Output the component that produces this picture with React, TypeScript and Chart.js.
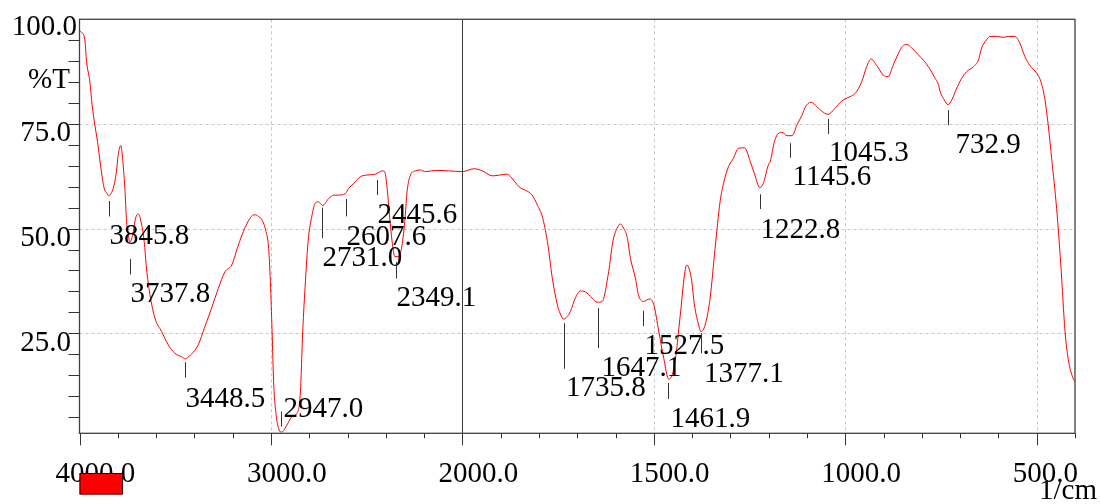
import React, { useEffect, useRef } from "react";
import { Chart, registerables, LinearScale } from "chart.js";

Chart.register(...registerables);

// ---- data ----
const WAVENUMBER: number[] = [
  4000, 3993, 3972, 3963, 3946, 3934, 3920, 3906, 3888, 3871, 3858, 3846, 3835, 3824, 3807, 3798,
  3784, 3775, 3763, 3754, 3745, 3737, 3728, 3719, 3707, 3693, 3679, 3662, 3650, 3632, 3606, 3571,
  3536, 3501, 3467, 3448, 3430, 3415, 3380, 3345, 3310, 3275, 3240, 3205, 3170, 3144, 3109, 3095,
  3082, 3065, 3047, 3026, 3012, 3003, 2994, 2986, 2973, 2960, 2947, 2939, 2916, 2890, 2864, 2846,
  2834, 2820, 2806, 2785, 2768, 2751, 2740, 2731, 2698, 2672, 2646, 2611, 2594, 2568, 2533, 2498,
  2454, 2419, 2406, 2393, 2381, 2367, 2353, 2336, 2318, 2301, 2289, 2271, 2245, 2219, 2193, 2141,
  2071, 2000, 1970, 1948, 1922, 1883, 1874, 1852, 1818, 1804, 1791, 1778, 1765, 1752, 1745, 1736,
  1726, 1718, 1705, 1692, 1679, 1661, 1648, 1635, 1618, 1607, 1596, 1587, 1579, 1570, 1561, 1548,
  1540, 1527, 1511, 1500, 1487, 1474, 1461, 1446, 1431, 1420, 1414, 1402, 1394, 1383, 1377, 1366,
  1353, 1340, 1327, 1318, 1305, 1292, 1279, 1263, 1248, 1237, 1223, 1214, 1201, 1196, 1185, 1174,
  1165, 1152, 1139, 1126, 1113, 1104, 1089, 1074, 1056, 1045, 1027, 1009, 988, 974, 957, 944,
  933, 918, 901, 888, 875, 861, 851, 839, 826, 809, 783, 766, 757, 752, 741, 732,
  722, 711, 696, 683, 665, 652, 644, 631, 622, 605, 587, 574, 557, 544, 531, 518,
  500, 489, 479, 470, 461, 448, 437, 426, 418, 405, 400,
];

const TRANSMITTANCE: number[] = [
  97.3, 97.0, 95.1, 89.9, 85.1, 79.5, 74.8, 70.8, 64.4, 59.6, 58.5, 57.8, 58.4, 59.6, 63.6, 67.6,
  69.8, 66.8, 59.6, 51.7, 48.5, 46.7, 47.5, 49.3, 52.5, 53.5, 51.7, 46.9, 40.5, 34.2, 28.6, 25.4,
  22.2, 20.2, 19.4, 18.9, 19.4, 20.0, 22.2, 26.6, 31.0, 35.7, 39.7, 41.3, 46.1, 49.3, 52.5, 53.2,
  53.3, 52.9, 52.1, 49.3, 45.3, 37.3, 25.4, 13.4, 5.5, 2.3, 1.4, 1.5, 3.1, 5.1, 5.9, 11.0,
  25.4, 37.3, 46.9, 53.3, 56.1, 56.4, 55.9, 55.5, 57.2, 58.0, 58.0, 58.4, 59.6, 60.8, 62.4, 62.8,
  63.0, 63.8, 63.6, 59.6, 53.3, 46.9, 43.3, 43.3, 45.3, 51.7, 58.8, 62.8, 63.8, 64.0, 63.6, 63.9,
  63.8, 63.6, 64.3, 63.8, 62.6, 63.0, 62.4, 60.0, 58.0, 55.6, 52.8, 46.9, 38.1, 31.8, 29.8, 28.4,
  29.0, 30.2, 33.4, 35.1, 34.9, 33.4, 32.4, 32.6, 39.7, 46.9, 50.1, 51.1, 50.1, 48.1, 42.9, 38.1,
  34.1, 32.6, 33.2, 31.8, 25.4, 19.0, 14.0, 17.4, 29.3, 38.9, 41.3, 38.1, 31.8, 27.0, 25.4, 27.0,
  33.4, 45.3, 56.4, 60.8, 64.8, 66.8, 69.2, 69.3, 66.0, 63.0, 59.8, 60.8, 65.2, 66.0, 70.8, 72.8,
  73.0, 72.2, 72.2, 74.8, 77.1, 79.1, 80.2, 79.1, 77.7, 77.3, 78.7, 80.5, 81.5, 82.3, 85.1, 88.7,
  90.5, 89.0, 86.7, 86.3, 89.0, 91.9, 93.5, 94.0, 93.1, 91.5, 88.7, 86.0, 84.5, 82.7, 80.7, 79.6,
  80.7, 83.1, 85.9, 87.5, 88.7, 90.3, 93.1, 95.1, 95.9, 95.9, 95.7, 95.9, 95.9, 94.3, 91.1, 89.0,
  87.1, 85.1, 81.1, 74.8, 66.8, 54.8, 41.3, 25.4, 19.0, 14.2, 13.5,
];

const PEAK_WN: number[] = [
  3845.8, 3737.8, 3448.5, 2947.0, 2731.0, 2607.6, 2445.6, 2349.1, 1735.8, 1647.1, 1527.5, 1461.9,
  1377.1, 1222.8, 1145.6, 1045.3, 732.9,
];
const PEAK_LABELS: string[] = PEAK_WN.map((v) => v.toFixed(1));

const X_MAJOR: number[] = [4000, 3000, 2000, 1500, 1000, 500];
const X_GRID: number[] = [3000, 1500, 1000, 500];
const X_SPLIT = 2000;
const Y_LABELS: number[] = [100, 75, 50, 25];
const Y_GRID: number[] = [75, 50, 25];

// ---- layout of the peak marks: [tick top (%T), tick length px, text dx px, text baseline offset px]
const PEAK_LAYOUT: number[][] = [
  [56.6, 15.5, 0, 28], [42.75, 15.5, 0, 28], [18.1, 15.5, 0, 29], [6.3, 15, 2, -10],
  [55.0, 30.5, 0, 27.5], [57.1, 17.5, 0, 28.3], [61.6, 15, 0, 28], [42.0, 16.5, 0, 27.7],
  [27.4, 45.5, 1.5, 27.7], [31.0, 40, 3, 27.4], [30.4, 15.5, 1, 28], [13.1, 16, 2, 28],
  [25.0, 20, 2.5, 28.4], [58.2, 14.7, 0, 29.3], [70.4, 14.5, 2, 27.3], [76.2, 15, 0.5, 26.7],
  [78.3, 15, 7, 28.3],
];

// piecewise wavenumber axis: 4000-2000 at half the density of 2000-400
const toU = (wn: number) => (wn >= 2000 ? 4000 - wn : 2000 + 2 * (2000 - wn));
const fromU = (u: number) => (u <= 2000 ? 4000 - u : 2000 - (u - 2000) / 2);
const U_MAX = toU(400);

class SplitScale extends (LinearScale as any) {
  static id = "split";
  getPixelForValue(value: number) {
    if (value === null || value === undefined || isNaN(value)) return NaN;
    return (this as any).getPixelForDecimal(toU(value) / U_MAX);
  }
  getValueForPixel(pixel: number) {
    return fromU((this as any).getDecimalForPixel(pixel) * U_MAX);
  }
}
Chart.register(SplitScale as any);

const FONT = '29px "Liberation Serif", "Times New Roman", serif';

const overlay = {
  id: "irOverlay",
  beforeDatasetsDraw(chart: any) {
    const { ctx, chartArea: a, scales } = chart;
    const x = scales.x, y = scales.y;
    ctx.save();
    ctx.lineWidth = 1;
    ctx.strokeStyle = "#c6c6c6";
    ctx.setLineDash([3, 3]);
    for (const v of Y_GRID) {
      const py = Math.round(y.getPixelForValue(v)) + 0.5;
      ctx.beginPath(); ctx.moveTo(a.left, py); ctx.lineTo(a.right, py); ctx.stroke();
    }
    for (const v of X_GRID) {
      const px = Math.round(x.getPixelForValue(v)) + 0.5;
      ctx.beginPath(); ctx.moveTo(px, a.top); ctx.lineTo(px, a.bottom); ctx.stroke();
    }
    ctx.setLineDash([]);
    ctx.strokeStyle = "#3a3a3a";
    const sx = Math.round(x.getPixelForValue(X_SPLIT)) + 0.5;
    ctx.beginPath(); ctx.moveTo(sx, a.top); ctx.lineTo(sx, a.bottom); ctx.stroke();
    ctx.restore();
  },
  afterDatasetsDraw(chart: any) {
    const { ctx, chartArea: a, scales } = chart;
    const x = scales.x, y = scales.y;
    ctx.save();
    // frame
    ctx.strokeStyle = "#404040";
    ctx.lineWidth = 1.3;
    ctx.strokeRect(a.left, a.top, a.right - a.left, a.bottom - a.top);
    ctx.lineWidth = 1;
    ctx.strokeStyle = "#333";
    // y ticks every 5
    for (let v = 5; v <= 95; v += 5) {
      const py = Math.round(y.getPixelForValue(v)) + 0.5;
      ctx.beginPath(); ctx.moveTo(a.left - 11, py); ctx.lineTo(a.left, py); ctx.stroke();
    }
    // x ticks
    const minor: number[] = [];
    for (let v = 3800; v > 2000; v -= 200) if (!X_MAJOR.includes(v)) minor.push(v);
    for (let v = 1900; v >= 400; v -= 100) if (!X_MAJOR.includes(v)) minor.push(v);
    for (const v of minor) {
      const px = Math.round(x.getPixelForValue(v)) + 0.5;
      ctx.beginPath(); ctx.moveTo(px, a.bottom); ctx.lineTo(px, a.bottom + 5); ctx.stroke();
    }
    for (const v of X_MAJOR) {
      const px = Math.round(x.getPixelForValue(v)) + 0.5;
      ctx.beginPath(); ctx.moveTo(px, a.bottom); ctx.lineTo(px, a.bottom + 12); ctx.stroke();
    }
    // text
    ctx.font = FONT;
    ctx.fillStyle = "#000";
    ctx.textBaseline = "alphabetic";
    // y labels
    ctx.textAlign = "right";
    Y_LABELS.forEach((v, i) => {
      const py = y.getPixelForValue(v);
      if (i === 0) ctx.fillText(v.toFixed(1), a.left - 2.5, py + 16);
      else ctx.fillText(v.toFixed(1), a.left - 8.5, py + 17.5);
    });
    ctx.textAlign = "left";
    ctx.fillText("%T", 28, 88);
    // x labels
    for (const v of X_MAJOR) {
      const px = x.getPixelForValue(v);
      ctx.fillText(v.toFixed(1), px - 24, 481.5);
    }
    ctx.textAlign = "right";
    ctx.fillText("1/cm", 1097, 499);
    // peak marks
    ctx.textAlign = "left";
    ctx.strokeStyle = "#333";
    PEAK_WN.forEach((wn, i) => {
      const [tT, len, dx, dy] = PEAK_LAYOUT[i];
      const px = Math.round(x.getPixelForValue(wn)) + 0.5;
      const top = y.getPixelForValue(tT);
      ctx.beginPath(); ctx.moveTo(px, top); ctx.lineTo(px, top + len); ctx.stroke();
      ctx.fillText(PEAK_LABELS[i], px + dx, top + len + dy);
    });
    // legend swatch
    ctx.fillStyle = "#ff0000";
    ctx.strokeStyle = "#3a0000";
    ctx.fillRect(a.left, 473.5, 43, 21);
    ctx.strokeRect(a.left + 0.5, 473.5, 42.5, 20.5);
    ctx.restore();
  },
};

export default function App() {
  const ref = useRef<HTMLCanvasElement>(null);
  useEffect(() => {
    if (!ref.current) return;
    const chart = new Chart(ref.current, {
      type: "line",
      data: {
        datasets: [
          {
            label: "%T",
            data: WAVENUMBER.map((wn, i) => ({ x: wn, y: TRANSMITTANCE[i] })),
            borderColor: "#ff0000",
            borderWidth: 1,
            pointRadius: 0,
            cubicInterpolationMode: "monotone",
            fill: false,
          },
        ],
      },
      options: {
        responsive: false,
        animation: false,
        layout: { padding: { left: 79.5, right: 25, top: 19.3, bottom: 70.7 } },
        plugins: { legend: { display: false }, tooltip: { enabled: false } },
        scales: {
          x: { type: "split" as any, min: 400, max: 4000, display: false },
          y: { type: "linear", min: 1.1, max: 100, display: false },
        },
      },
      plugins: [overlay],
    });
    return () => chart.destroy();
  }, []);
  return (
    <div style={{ position: "fixed", left: 0, top: 0, width: 1100, height: 504, background: "#fff" }}>
      <canvas ref={ref} width={1100} height={504} style={{ display: "block" }} />
    </div>
  );
}
